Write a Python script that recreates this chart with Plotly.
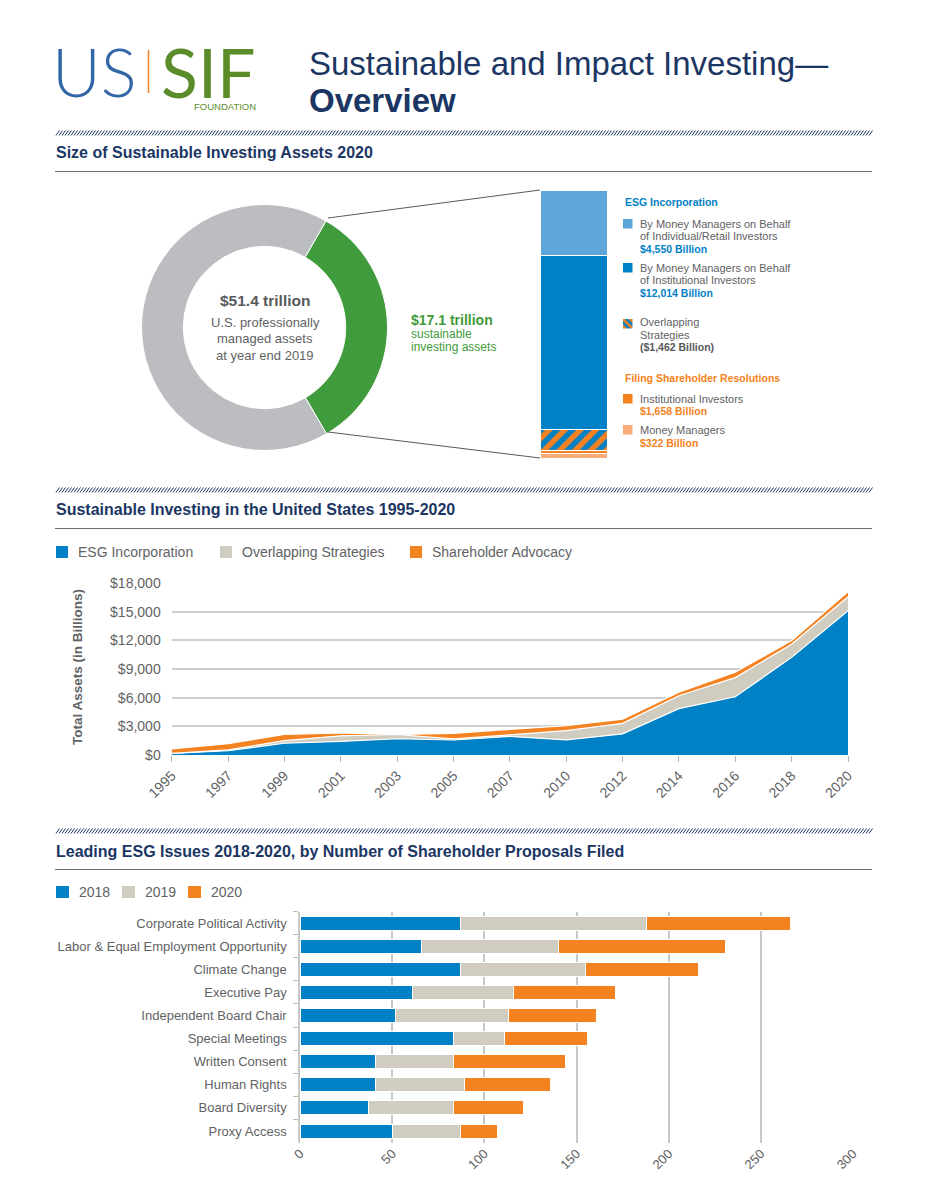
import plotly.graph_objects as go

# ---------------- data ----------------
donut_labels = ["Sustainable investing assets", "Other professionally managed assets"]
donut_values = [17.1, 34.3]          # $ trillion, total 51.4

breakdown_labels = ["ESG - Individual/Retail", "ESG - Institutional", "Overlapping Strategies",
                    "Resolutions - Institutional Investors", "Resolutions - Money Managers"]
breakdown_values = [4550, 12014, 1462, 196, 322]   # $ billion (as drawn, top to bottom)

years = ["1995", "1997", "1999", "2001", "2003", "2005", "2007", "2010",
         "2012", "2014", "2016", "2018", "2020"]
esg_incorporation = [162, 445, 1232, 1418, 1702, 1568, 1947, 1573, 2208, 4856, 6096, 10215, 15102]
overlapping = [0, 84, 265, 592, 441, 117, 151, 981, 1106, 1340, 2002, 1380, 1462]
shareholder_advocacy = [473, 652, 657, 305, 7, 586, 588, 516, 430, 376, 558, 381, 518]
y_ticks = [0, 3000, 6000, 9000, 12000, 15000, 18000]
y_tick_labels = ["$0", "$3,000", "$6,000", "$9,000", "$12,000", "$15,000", "$18,000"]

issues = ["Corporate Political Activity", "Labor & Equal Employment Opportunity",
          "Climate Change", "Executive Pay", "Independent Board Chair", "Special Meetings",
          "Written Consent", "Human Rights", "Board Diversity", "Proxy Access"]
p2018 = [87, 66, 87, 61, 52, 83, 41, 41, 37, 50]
p2019 = [101, 74, 68, 55, 61, 28, 42, 48, 46, 37]
p2020 = [78, 91, 61, 55, 48, 45, 61, 47, 38, 20]
x_ticks = [0, 50, 100, 150, 200, 250, 300]

# ---------------- styles ----------------
PAGE_W, PAGE_H = 927, 1200
OFF = 8                      # default page body margin
W, H = PAGE_W - OFF, PAGE_H - OFF
FONT = "Liberation Sans, Arial, Helvetica, sans-serif"
BLUE = "#0081c6"
LBLUE = "#5ea5d9"
SAND = "#d0ccc0"
ORANGE = "#f58220"
LORANGE = "#f9ad78"
DGRAY = "#bcbdc0"
GREEN = "#3f9b3b"
NAVY = "#1b3663"
TXT = "#616264"
LOGO_BLUE = "#3366a6"
LOGO_GREEN = "#5b8c2a"


def px(x):
    return (x - OFF) / W


def py(y):
    return 1 - (y - OFF) / H


annotations = []
shapes = []


def txt(x, y, text, size, color=TXT, bold=False, anchor="left", family=FONT, weight=None,
        angle=0, box_h=None):
    f = dict(family=family, size=size, color=color)
    if weight is not None:
        f["weight"] = weight
    a = dict(
        x=px(x), y=py(y), xref="paper", yref="paper", showarrow=False,
        text=("<b>%s</b>" % text) if bold else text, font=f,
        xanchor=anchor, yanchor="middle", textangle=angle,
    )
    if box_h is not None:
        a["height"] = box_h
        a["valign"] = "middle"
    annotations.append(a)


def rect(x0, y0, x1, y1, color):
    shapes.append(dict(type="rect", xref="paper", yref="paper",
                       x0=px(x0), x1=px(x1), y0=py(y1), y1=py(y0),
                       fillcolor=color, line=dict(width=0)))


def line(x0, y0, x1, y1, color, width=1):
    shapes.append(dict(type="line", xref="paper", yref="paper",
                       x0=px(x0), x1=px(x1), y0=py(y0), y1=py(y1),
                       line=dict(color=color, width=width)))


def hatch(y_top, y_bot, x0=56, x1=872, step=3.0):
    parts = []
    x = x0
    while x + 3 <= x1:
        parts.append("M%.5f,%.5f L%.5f,%.5f" % (px(x), py(y_bot), px(x + 3.5), py(y_top)))
        x += step
    shapes.append(dict(type="path", xref="paper", yref="paper", path=" ".join(parts),
                       line=dict(color=NAVY, width=1)))


# ---------------- header ----------------
txt(50, 71, "US", 67, LOGO_BLUE, family="Lato, " + FONT, weight=300, box_h=56)
line(148.5, 50, 148.5, 93, ORANGE, 1.5)
txt(159, 71, "SIF", 68, LOGO_GREEN, family="Lato, " + FONT, weight=400, box_h=56)
txt(258, 106, "FOUNDATION", 9.5, LOGO_GREEN, anchor="right")
txt(307, 63, "Sustainable and Impact Investing\u2014", 33, NAVY)
txt(307, 101, "Overview", 33, NAVY, bold=True)

# section headers
for (yh, title) in [(133, "Size of Sustainable Investing Assets 2020"),
                    (490, "Sustainable Investing in the United States 1995-2020"),
                    (831, "Leading ESG Issues 2018-2020, by Number of Shareholder Proposals Filed")]:
    hatch(yh - 2.5, yh + 2.5)
    txt(54, yh + 20, title, 16, NAVY, bold=True)
    line(55, yh + 38.5, 872, yh + 38.5, "#6d6e70", 1.2)

# ---------------- section 1: donut ----------------
cx, cy, r = 264.5, 327.5, 123
pie = go.Pie(values=donut_values, labels=donut_labels, hole=0.66, rotation=30,
             direction="clockwise", sort=False, textinfo="none", hoverinfo="label+value",
             marker=dict(colors=[GREEN, DGRAY], line=dict(color="white", width=1)),
             domain=dict(x=[px(cx - r), px(cx + r)], y=[py(cy + r), py(cy - r)]),
             showlegend=False, automargin=False)

txt(265, 300, "$51.4 trillion", 15.5, "#58595b", bold=True, anchor="center")
txt(265, 322, "U.S. professionally", 13, TXT, anchor="center")
txt(265, 339, "managed assets", 13, TXT, anchor="center")
txt(265, 355, "at year end 2019", 13, TXT, anchor="center")

txt(409, 320, "$17.1 trillion", 14, GREEN, bold=True)
txt(409, 334, "sustainable", 12, GREEN)
txt(409, 347, "investing assets", 12, GREEN)

line(328, 218, 540, 190, "#58595b", 1)
line(328, 432, 540, 458, "#58595b", 1)

# single stacked bar (drawn bottom-up, so reverse the top-to-bottom order)
seg_styles = [
    dict(color=LBLUE),
    dict(color=BLUE),
    dict(color=BLUE, pattern=dict(shape="/", fgcolor=ORANGE, bgcolor=BLUE, fgopacity=1,
                                  size=11, solidity=0.5, fillmode="replace")),
    dict(color=ORANGE),
    dict(color=LORANGE),
]
stack_traces = []
for lab, v, st in reversed(list(zip(breakdown_labels, breakdown_values, seg_styles))):
    m = dict(st)
    m["line"] = dict(color="white", width=1)
    stack_traces.append(go.Bar(x=[0], y=[v], width=1, name=lab, marker=m,
                               xaxis="x3", yaxis="y3", showlegend=False, hoverinfo="name+y"))

# hatch legend icon
icon = go.Bar(x=[0], y=[1], width=1, xaxis="x4", yaxis="y4", showlegend=False, hoverinfo="skip",
              marker=dict(color=BLUE, line=dict(width=0),
                          pattern=dict(shape="\\", fgcolor=ORANGE, bgcolor=BLUE, fgopacity=1,
                                       size=5, solidity=0.5, fillmode="replace")))

lx, tx = 623, 638
txt(lx, 202.5, "ESG Incorporation", 10.5, BLUE, bold=True)
rect(lx, 219, lx + 9.5, 228.5, LBLUE)
txt(tx, 224, "By Money Managers on Behalf", 11, TXT)
txt(tx, 236, "of Individual/Retail Investors", 11, TXT)
txt(tx, 248.5, "$4,550 Billion", 10.5, BLUE, bold=True)
rect(lx, 263, lx + 9.5, 272.5, BLUE)
txt(tx, 268, "By Money Managers on Behalf", 11, TXT)
txt(tx, 280, "of Institutional Investors", 11, TXT)
txt(tx, 292.5, "$12,014 Billion", 10.5, BLUE, bold=True)
txt(tx, 322.5, "Overlapping", 11, TXT)
txt(tx, 335, "Strategies", 11, TXT)
txt(tx, 347, "($1,462 Billion)", 10.5, "#58595b", bold=True)
txt(lx, 377.5, "Filing Shareholder Resolutions", 10.5, ORANGE, bold=True)
rect(lx, 394, lx + 9.5, 403.5, ORANGE)
txt(tx, 399, "Institutional Investors", 11, TXT)
txt(tx, 411, "$1,658 Billion", 10.5, ORANGE, bold=True)
rect(lx, 425, lx + 9.5, 434.5, LORANGE)
txt(tx, 430, "Money Managers", 11, TXT)
txt(tx, 442.5, "$322 Billion", 10.5, ORANGE, bold=True)

# ---------------- section 2: area chart ----------------
for (name, x0, col) in [("ESG Incorporation", 56, BLUE), ("Overlapping Strategies", 220, SAND),
                        ("Shareholder Advocacy", 410, ORANGE)]:
    rect(x0, 546, x0 + 12, 558, col)
    txt(x0 + 20, 552, name, 14, TXT)

area_traces = []
for name, vals, col in [("ESG Incorporation", esg_incorporation, BLUE),
                        ("Overlapping Strategies", overlapping, SAND),
                        ("Shareholder Advocacy", shareholder_advocacy, ORANGE)]:
    area_traces.append(go.Scatter(x=years, y=vals, name=name, stackgroup="assets", mode="lines",
                                  line=dict(color="white", width=1.2), fillcolor=col,
                                  xaxis="x", yaxis="y", showlegend=False))

txt(77, 667, "Total Assets (in Billions)", 13.5, TXT, bold=True, anchor="center", angle=-90)

# ---------------- section 3: horizontal bars ----------------
for (name, x0, col) in [("2018", 56, BLUE), ("2019", 122, SAND), ("2020", 188, ORANGE)]:
    rect(x0, 886, x0 + 13, 898, col)
    txt(x0 + 21, 892, name, 14, TXT)

bar_traces = []
for name, vals, col in [("2018", p2018, BLUE), ("2019", p2019, SAND), ("2020", p2020, ORANGE)]:
    bar_traces.append(go.Bar(y=issues, x=vals, name=name, orientation="h",
                             marker=dict(color=col, line=dict(color="white", width=1)),
                             xaxis="x2", yaxis="y2", showlegend=False))

fig = go.Figure(data=[pie] + stack_traces + [icon] + area_traces + bar_traces)

fig.update_layout(
    width=W, height=H, autosize=False,
    margin=dict(l=0, r=0, t=0, b=0, pad=0, autoexpand=False),
    paper_bgcolor="white", plot_bgcolor="rgba(0,0,0,0)",
    showlegend=False, barmode="stack", bargap=0.39,
    font=dict(family=FONT, color=TXT),
    annotations=annotations, shapes=shapes,
    xaxis=dict(domain=[px(171.7), px(848)], type="category", range=[0, 12], anchor="y",
               showgrid=False, zeroline=False, ticks="outside", ticklen=6, tickcolor="#b5b5b5",
               tickangle=-45, tickfont=dict(size=14, color=TXT), fixedrange=True,
               automargin=False),
    yaxis=dict(domain=[py(755), py(583)], range=[0, 18000], anchor="x",
               tickvals=y_ticks, ticktext=y_tick_labels,
               showgrid=True, gridcolor="#cfcfcf", gridwidth=1.5, zeroline=False,
               ticks="", ticklabelstandoff=10, tickfont=dict(size=14, color=TXT), fixedrange=True,
               automargin=False),
    xaxis2=dict(domain=[px(300), px(853)], range=[0, 300], anchor="y2",
                tickvals=x_ticks, showgrid=True, gridcolor="#c8c8c8", gridwidth=1.5,
                zeroline=False, ticks="", tickangle=-45, tickfont=dict(size=13, color=TXT),
                fixedrange=True, automargin=False),
    yaxis2=dict(domain=[py(1142.6), py(911.5)], type="category", autorange="reversed",
                anchor="x2", ticks="outside", tickson="boundaries", ticklen=5,
                tickcolor="#bdbdbd", showline=True, linecolor="#c8c8c8", linewidth=1.5,
                showgrid=False, tickfont=dict(size=13, color=TXT), ticklabelstandoff=9,
                fixedrange=True, automargin=False),
    xaxis3=dict(domain=[px(540), px(607)], range=[-0.5, 0.5], visible=False, anchor="y3",
                fixedrange=True, automargin=False),
    yaxis3=dict(domain=[py(458), py(190)], range=[0, sum(breakdown_values)], visible=False,
                anchor="x3", fixedrange=True, automargin=False),
    xaxis4=dict(domain=[px(623), px(632.5)], range=[-0.5, 0.5], visible=False, anchor="y4",
                fixedrange=True, automargin=False),
    yaxis4=dict(domain=[py(328.5), py(319)], range=[0, 1], visible=False, anchor="x4",
                fixedrange=True, automargin=False),
)

fig.write_html("out.html")
